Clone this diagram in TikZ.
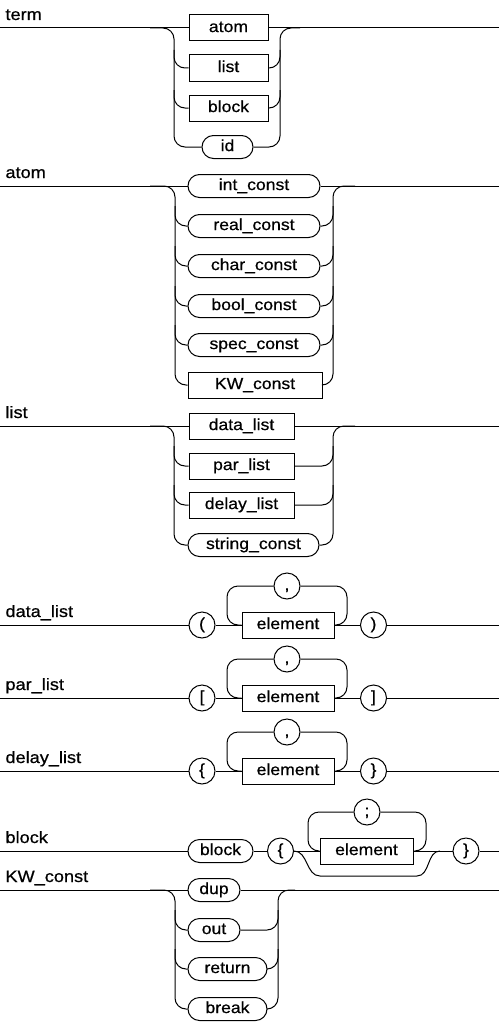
\documentclass[tikz,border=0pt]{standalone}
\usepackage{fontspec}
\setmainfont[FakeStretch=1.1,FakeBold=0.6]{Liberation Sans}
\usetikzlibrary{shapes.misc}
\begin{document}
\begin{tikzpicture}[x=1pt,y=-1pt,line width=1pt,
  every node/.style={font=\fontsize{16}{19}\selectfont},
  box/.style={draw,rectangle,minimum height=26pt,inner sep=0pt,text height=11.5pt,text depth=3.4pt},
  rbox/.style={draw,rounded rectangle,minimum height=23pt,inner sep=0pt,text height=11.5pt,text depth=3.4pt},
  cbox/.style={draw,circle,minimum size=26pt,inner sep=0pt,text height=11.5pt,text depth=3.4pt},
  lab/.style={anchor=base west,inner sep=0pt,font=\fontsize{16.5}{19}\selectfont},
  rc/.style={rounded corners=11pt}]
\useasboundingbox (0,0) rectangle (499,1025);
% ---------------- term
\node[lab] (Lterm) at (5,20) {term};
\coordinate (t0) at (0,28); \coordinate (t1) at (499,28);
\node[box,minimum width=79pt] (tatom) at (228.5,28) {atom};
\node[box,minimum width=79pt] (tlist) at (228.5,68) {list};
\node[box,minimum width=79pt] (tblock) at (228.5,108) {block};
\node[rbox,minimum width=51pt] (tid) at (227.5,147) {id};
\draw (t0) -- (tatom.west);
\draw (tatom.east) -- (t1);
\draw[rc] (150,28) -- (174,28) -- (174,147) -- (tid.west);
\draw[rc] (174,50) -- (174,68) -- (tlist.west);
\draw[rc] (174,90) -- (174,108) -- (tblock.west);
\draw[rc] (tid.east) -- (280,147) -- (280,28) -- (300,28);
\draw[rc] (tlist.east) -- (280,68) -- (280,50);
\draw[rc] (tblock.east) -- (280,108) -- (280,90);
% ---------------- atom
\node[lab] (Latom) at (5,178) {atom};
\coordinate (a0) at (0,186); \coordinate (a1) at (499,186);
\node[rbox,minimum width=132pt] (aint) at (254,186) {int\_const};
\node[rbox,minimum width=132pt] (areal) at (254,226) {real\_const};
\node[rbox,minimum width=132pt] (achar) at (254,266) {char\_const};
\node[rbox,minimum width=132pt] (abool) at (254,306) {bool\_const};
\node[rbox,minimum width=132pt] (aspec) at (254,345) {spec\_const};
\node[box,minimum width=134pt] (akw) at (255,385) {KW\_const};
\draw (a0) -- (aint.west);
\draw (aint.east) -- (a1);
\draw[rc] (150,186) -- (175,186) -- (175,385) -- (akw.west);
\foreach \n/\y in {areal/226,achar/266,abool/306,aspec/345}{
  \draw[rc] (175,\y-20) -- (175,\y) -- (\n.west);
  \draw[rc] (\n.east) -- (333,\y) -- (333,\y-20);
}
\draw[rc] (akw.east) -- (333,385) -- (333,186) -- (355,186);
% ---------------- list
\node[lab] (Llist) at (5,418) {list};
\coordinate (l0) at (0,426); \coordinate (l1) at (499,426);
\node[box,minimum width=105pt] (ldata) at (241.5,426) {data\_list};
\node[box,minimum width=105pt] (lpar) at (241.5,466) {par\_list};
\node[box,minimum width=105pt] (ldelay) at (241.5,505) {delay\_list};
\node[rbox,minimum width=131pt] (lstr) at (253.5,545) {string\_const};
\draw (l0) -- (ldata.west);
\draw (ldata.east) -- (l1);
\draw[rc] (150,426) -- (174,426) -- (174,545) -- (lstr.west);
\foreach \n/\y in {lpar/466,ldelay/505}{
  \draw[rc] (174,\y-20) -- (174,\y) -- (\n.west);
  \draw[rc] (\n.east) -- (333,\y) -- (333,\y-20);
}
\draw[rc] (lstr.east) -- (333,545) -- (333,426) -- (355,426);
% ---------------- data_list / par_list / delay_list
\foreach \nm/\y/\o/\c in {dl/625/(/),pl/698/[/],yl/771/\{/\}}{
  \coordinate (\nm s) at (0,\y); \coordinate (\nm e) at (499,\y);
  \node[cbox] (\nm o) at (202,\y) {\o};
  \node[box,minimum width=92pt] (\nm el) at (288,\y) {element};
  \node[cbox] (\nm c) at (373.5,\y) {\c};
  \node[cbox] (\nm k) at (287,\y-39) {,};
  \draw (\nm s) -- (\nm o.west);
  \draw (\nm o.east) -- (\nm el.west);
  \draw (\nm el.east) -- (\nm c.west);
  \draw (\nm c.east) -- (\nm e);
  \draw[rc] (\nm el.west) -- (227,\y) -- (227,\y-39) -- (\nm k.west);
  \draw[rc] (\nm k.east) -- (347,\y-39) -- (347,\y) -- (\nm el.east);
}
\node[lab] (Ldata) at (5,617) {data\_list};
\node[lab] (Lpar) at (5,690) {par\_list};
\node[lab] (Ldelay) at (5,763) {delay\_list};
% ---------------- block
\node[lab] (Lblock) at (5,843) {block};
\coordinate (b0) at (0,851); \coordinate (b1) at (499,851);
\coordinate (bm) at (440,851);
\node[rbox,minimum width=65pt] (bblk) at (220.5,851) {block};
\node[cbox] (bo) at (280.5,851) {\{};
\node[box,minimum width=93pt] (bel) at (366.5,851) {element};
\node[cbox] (bc) at (466,851) {\}};
\node[cbox] (bk) at (367,812) {;};
\draw (b0) -- (bblk.west);
\draw (bblk.east) -- (bo.west);
\draw (bo.east) -- (bel.west);
\draw (bel.east) -- (bc.west);
\draw (bc.east) -- (b1);
\draw[rc] (bel.west) -- (308,851) -- (308,812) -- (bk.west);
\draw[rc] (bk.east) -- (426,812) -- (426,851) -- (bel.east);
\draw (bo.east) to[out=0,in=180] (320,876) -- (417,876) to[out=0,in=180] (bm);
% ---------------- KW_const
\node[lab] (Lkw) at (5,882) {KW\_const};
\coordinate (k0) at (0,890); \coordinate (k1) at (499,890);
\node[rbox,minimum width=52pt] (kdup) at (214,890) {dup};
\node[rbox,minimum width=52pt] (kout) at (214,930) {out};
\node[rbox,minimum width=79pt] (kret) at (227.5,969) {return};
\node[rbox,minimum width=79pt] (kbrk) at (227.5,1009) {break};
\draw (k0) -- (kdup.west);
\draw (kdup.east) -- (k1);
\draw[rc] (150,890) -- (175,890) -- (175,1009) -- (kbrk.west);
\foreach \n/\y in {kout/930,kret/969}{
  \draw[rc] (175,\y-20) -- (175,\y) -- (\n.west);
  \draw[rc] (\n.east) -- (278,\y) -- (278,\y-20);
}
\draw[rc] (kbrk.east) -- (278,1009) -- (278,890) -- (295,890);
\end{tikzpicture}
\end{document}
